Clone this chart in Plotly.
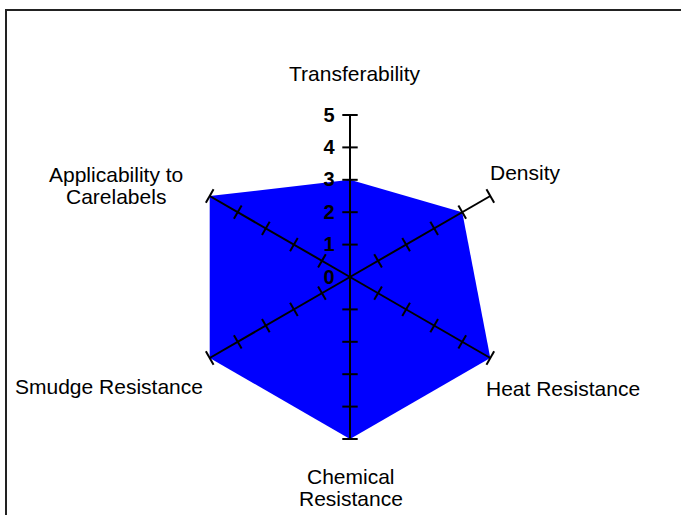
import plotly.graph_objects as go

# ---- data ----
categories = ["Transferability", "Density", "Heat Resistance",
              "Chemical<br>Resistance", "Smudge Resistance",
              "Applicability to<br>Carelabels"]
values = [3, 4, 5, 5, 5, 5]
radial_ticks = [0, 1, 2, 3, 4, 5]
radial_max = 5

W, H = 681, 515
cx, cy, R = 350, 277, 162

# label placement (pixels): x, y of first line centre, anchor
label_place = [(355, 74, "center"), (488, 172.5, "left"), (484, 388, "left"),
               (351, 476, "center"), (205, 386.5, "right"), (116, 174, "center")]
line_gap = 22.7

fig = go.Figure()

# filled area
fig.add_trace(go.Scatterpolar(
    r=values + values[:1], theta=categories + categories[:1],
    mode="lines", fill="toself", fillcolor="#0000FF",
    line=dict(color="rgba(0,0,0,0)", width=0), hoverinfo="skip",
    showlegend=False))

# spokes + tick marks on each spoke
n = len(categories)
for i, c in enumerate(categories):
    fig.add_trace(go.Scatterpolar(
        r=[0, radial_max], theta=[c, c], mode="lines",
        line=dict(color="black", width=2), showlegend=False, hoverinfo="skip"))
    tks = [t for t in radial_ticks if t > 0]
    fig.add_trace(go.Scatterpolar(
        r=tks, theta=[c] * len(tks), mode="markers",
        marker=dict(symbol="line-ew", size=11, angle=360.0 / n * i,
                    line=dict(color="black", width=2)),
        showlegend=False, hoverinfo="skip"))

annotations = []
for c, (px, py, anc) in zip(categories, label_place):
    for j, line in enumerate(c.split("<br>")):
        annotations.append(dict(
            text=line, xref="paper", yref="paper",
            x=px / W, y=1 - (py + j * line_gap) / H,
            xanchor=anc, yanchor="middle", showarrow=False,
            font=dict(size=21, color="black")))

fig.update_layout(
    width=W, height=H,
    margin=dict(l=0, r=0, t=0, b=0),
    paper_bgcolor="white",
    font=dict(family="Liberation Sans, Arial, sans-serif", color="black"),
    polar=dict(
        domain=dict(x=[(cx - R) / W, (cx + R) / W],
                    y=[1 - (cy + R) / H, 1 - (cy - R) / H]),
        bgcolor="rgba(0,0,0,0)",
        radialaxis=dict(range=[0, radial_max], tickvals=radial_ticks,
                        angle=90, tickangle=90, side="counterclockwise",
                        showgrid=False, showline=False, ticks="outside",
                        ticklen=8, tickcolor="rgba(0,0,0,0)",
                        tickfont=dict(size=20, weight="bold", color="black")),
        angularaxis=dict(rotation=90, direction="clockwise", type="category",
                         showgrid=False, showline=False, ticks="",
                         showticklabels=False),
    ),
    annotations=annotations,
    shapes=[dict(type="rect", xref="paper", yref="paper",
                 x0=6 / W, y0=-0.2, x1=1.2, y1=1 - 10 / H,
                 line=dict(color="#222", width=2))],
)

fig.write_html("out.html", config={"displayModeBar": False},
               post_script="document.body.style.margin='0px';")
